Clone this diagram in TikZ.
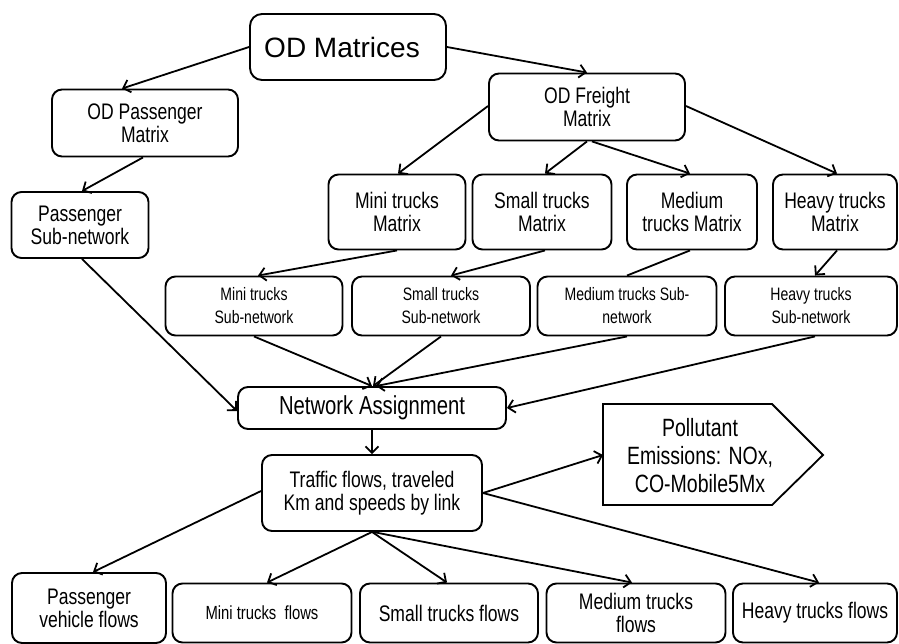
\documentclass[tikz,border=0pt]{standalone}
\usepackage{fontspec}
\setmainfont{Liberation Sans}[FakeStretch=0.78]
\newfontfamily\widefont{Liberation Sans}
\usetikzlibrary{arrows.meta}
\begin{document}
\begin{tikzpicture}[x=1pt,y=-1pt,
  box/.style={draw, line width=1.9pt, rounded corners=10pt, align=center, inner sep=0pt, font=\fontsize{22.5}{23}\selectfont},
  sub/.style={box, font=\fontsize{18}{23}\selectfont},
  arr/.style={line width=1.8pt, -{Straight Barb[length=6.5pt,width=13pt]}},
  ln/.style={line width=1.8pt}]
\useasboundingbox (0,0) rectangle (899,644);
% top
\node[box, minimum width=196pt, minimum height=66pt, rounded corners=12pt, font=\widefont\fontsize{28}{30}\selectfont] (odm) at (348,47) {\hspace*{-12pt}OD Matrices};
\node[box, minimum width=186pt, minimum height=67pt] (odp) at (145,123) {OD Passenger\\Matrix};
\node[box, minimum width=137pt, minimum height=66pt] (psn) at (80,225) {Passenger\\Sub-network};
\node[box, minimum width=196pt, minimum height=67pt] (odf) at (587,107) {OD Freight\\Matrix};
% matrices row
\node[box, minimum width=137pt, minimum height=75pt] (mtm) at (397,212) {Mini trucks\\Matrix};
\node[box, minimum width=139pt, minimum height=75pt] (stm) at (542,212) {Small trucks\\Matrix};
\node[box, minimum width=130pt, minimum height=75pt] (mdm) at (692,212) {Medium\\trucks Matrix};
\node[box, minimum width=124pt, minimum height=75pt] (htm) at (835,212) {Heavy trucks\\Matrix};
% sub-network row
\node[sub, minimum width=177pt, minimum height=59pt] (msn) at (254,306) {Mini trucks\\Sub-network};
\node[sub, minimum width=178pt, minimum height=59pt] (ssn) at (441,306) {Small trucks\\Sub-network};
\node[sub, minimum width=179pt, minimum height=59pt] (dsn) at (627,306) {Medium trucks Sub-\\network};
\node[sub, minimum width=172pt, minimum height=59pt] (hsn) at (811,306) {Heavy trucks\\Sub-network};
% assignment
\node[box, minimum width=268pt, minimum height=42pt, font=\fontsize{26}{28}\selectfont] (na) at (372,408) {Network Assignment};
\node[box, minimum width=220pt, minimum height=76pt] (tf) at (372,493) {Traffic flows, traveled\\Km and speeds by link};
% pollutant pentagon
\draw[ln] (603,404) -- (772,404) -- (823,455) -- (772,505) -- (603,505) -- cycle;
\coordinate (polin) at (603,455);
\node[align=center, inner sep=0pt, font=\fontsize{25}{28}\selectfont] (pol) at (700,456) {Pollutant\\Emissions: NOx,\\CO-Mobile5Mx};
% bottom row
\node[box, minimum width=154pt, minimum height=70pt] (pvf) at (89,608) {Passenger\\vehicle flows};
\node[sub, minimum width=179pt, minimum height=59pt, font=\fontsize{19}{23}\selectfont] (mtf) at (262,613) {Mini trucks\ \ flows};
\node[box, minimum width=178pt, minimum height=59pt] (stf) at (449,613) {Small trucks flows};
\node[box, minimum width=179pt, minimum height=59pt] (dtf) at (636,613) {Medium trucks\\flows};
\node[box, minimum width=164pt, minimum height=59pt] (htf) at (815,613) {Heavy trucks flows};
% connectors
\draw[arr] (odm.west) -- ([xshift=-23pt]odp.north);
\draw[arr] (odm.east) -- (odf.north);
\draw[arr] ([xshift=-2pt]odp.south) -- ([xshift=2pt]psn.north);
\draw[arr] ([yshift=1pt]odf.west) -- ([xshift=1pt]mtm.north);
\draw[arr] (odf.south) -- ([xshift=3pt]stm.north);
\draw[arr] ([xshift=5pt]odf.south) -- ([xshift=-2pt]mdm.north);
\draw[arr] ([yshift=1pt]odf.east) -- ([xshift=2pt]htm.north);
\draw[arr] (mtm.south) -- ([xshift=4pt]msn.north);
\draw[arr] ([xshift=3pt]stm.south) -- ([xshift=10pt]ssn.north);
\draw[ln] ([xshift=-2pt]mdm.south) -- (dsn.north);
\draw[arr] ([xshift=2pt]htm.south) -- ([xshift=4pt]hsn.north);
\draw[arr] ([xshift=2pt]psn.south) -- ([yshift=-3pt]na.west);
\draw[arr] (msn.south) -- (na.north);
\draw[arr] (ssn.south) -- ([xshift=1pt]na.north);
\draw[arr] (dsn.south) -- ([xshift=4pt]na.north);
\draw[arr] ([xshift=4pt]hsn.south) -- (na.east);
\draw[arr] (na.south) -- (tf.north);
\draw[arr] (tf.east) -- (polin);
\draw[arr] (tf.east) -- ([xshift=4pt]htf.north);
\draw[arr] ([yshift=2pt]tf.west) -- ([xshift=4pt]pvf.north);
\draw[arr] (tf.south) -- ([xshift=5pt]mtf.north);
\draw[arr] (tf.south) -- ([xshift=-2pt]stf.north);
\draw[arr] ([xshift=1pt]tf.south) -- ([xshift=-4pt]dtf.north);
\end{tikzpicture}
\end{document}
